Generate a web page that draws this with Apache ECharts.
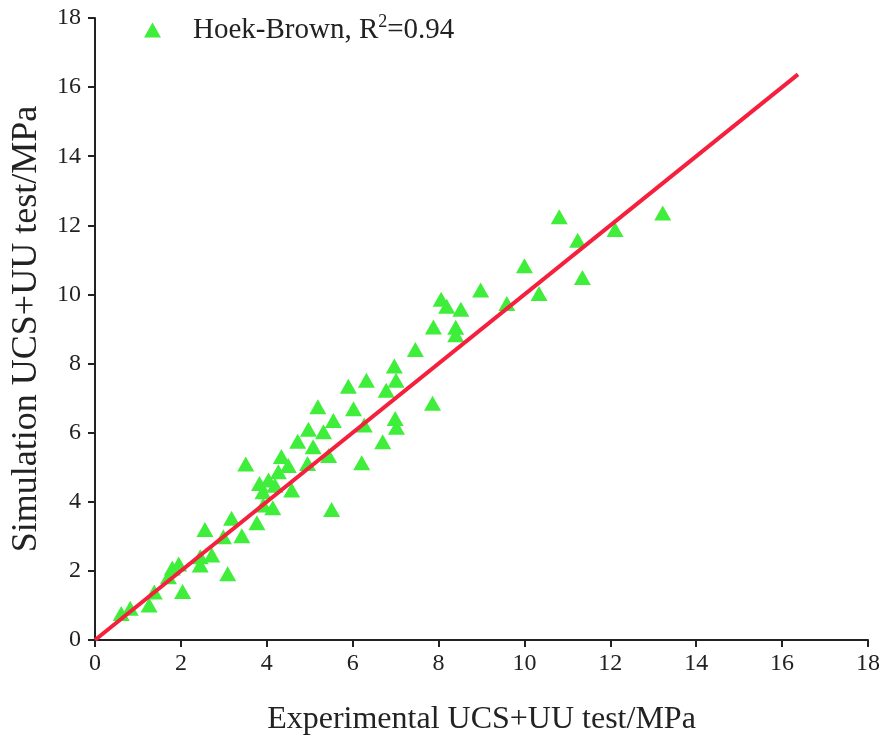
<!DOCTYPE html>
<html>
<head>
<meta charset="utf-8">
<script src="https://cdn.jsdelivr.net/npm/echarts@6/dist/echarts.min.js"></script>
<style>html,body{margin:0;padding:0;background:#fff}#c{width:885px;height:744px}</style>
</head>
<body>
<div id="c"></div>
<script>
const seriesName = 'Hoek-Brown, R2=0.94';
const xLabel = 'Experimental UCS+UU test/MPa';
const yLabel = 'Simulation UCS+UU test/MPa';
const expValues = [0.61,0.82,1.26,1.38,1.71,1.80,1.95,2.04,2.45,2.45,2.56,2.72,2.99,3.09,3.18,3.42,3.51,3.77,3.83,4.04,4.19,3.91,3.92,4.14,4.27,4.34,4.50,4.58,4.72,5.08,4.95,4.97,5.32,5.19,5.44,5.51,5.55,5.90,6.02,6.21,6.27,6.32,6.70,6.78,6.97,7.01,6.99,7.02,7.46,7.86,7.88,8.06,8.19,8.40,8.40,8.52,8.98,9.59,10.00,10.34,10.81,11.24,11.35,12.11,13.22];
const simValues = [0.77,0.92,1.01,1.39,1.83,2.08,2.20,1.40,2.41,2.17,3.20,2.46,2.99,1.92,3.52,3.02,5.09,3.39,4.53,4.63,4.48,4.29,3.91,3.83,4.87,5.31,5.05,4.34,5.75,5.59,5.11,6.10,6.03,6.75,5.34,3.78,6.35,7.34,6.69,5.13,6.22,7.52,5.74,7.23,7.93,7.52,6.41,6.16,8.41,6.85,9.06,9.86,9.66,9.05,8.83,9.57,10.13,9.74,10.83,10.03,12.25,11.57,10.49,11.88,12.36];
const fitLineX = [0, 16.37];
const fitLineY = [0, 16.37];
const axisMin = 0, axisMax = 18, axisStep = 2;

const pts = expValues.map((v, i) => [v, simValues[i]]);
const linePts = fitLineX.map((v, i) => [v, fitLineY[i]]);
const font = 'Liberation Serif, Times New Roman, serif';
const axisCommon = {
  type: 'value', min: axisMin, max: axisMax, interval: axisStep,
  splitLine: {show: false},
  axisLine: {show: true, onZero: false, lineStyle: {color: '#222', width: 2}},
  axisTick: {show: true, inside: false, length: 7, lineStyle: {color: '#222', width: 2}},
  axisLabel: {color: '#222', fontFamily: font, fontSize: 24},
  nameLocation: 'middle',
  nameTextStyle: {color: '#222', fontFamily: font, fontSize: 32}
};
const chart = echarts.init(document.getElementById('c'), null, {renderer: 'canvas'});
chart.setOption({
  backgroundColor: '#fff',
  animation: false,
  grid: {left: 95, right: 17, top: 18, bottom: 104, containLabel: false, outerBoundsMode: 'none'},
  legend: {
    data: [{name: seriesName, icon: 'triangle'}],
    left: 139, top: 8,
    itemWidth: 17, itemHeight: 15,
    formatter: function () { return '{n|Hoek-Brown, R}{s|2}{n|=0.94}'; },
    textStyle: {
      color: '#222', fontFamily: font, fontSize: 29, padding: [0, 0, 0, 27],
      rich: {
        n: {color: '#222', fontFamily: font, fontSize: 29, lineHeight: 34},
        s: {color: '#222', fontFamily: font, fontSize: 18, lineHeight: 34, verticalAlign: 'top', padding: [0, 0, 12, 0]}
      }
    }
  },
  xAxis: Object.assign({}, axisCommon, {name: xLabel, nameGap: 64,
    axisLabel: Object.assign({}, axisCommon.axisLabel, {margin: 12})}),
  yAxis: Object.assign({}, axisCommon, {name: yLabel, nameGap: 50,
    nameTextStyle: {color: '#222', fontFamily: font, fontSize: 36},
    axisLabel: Object.assign({}, axisCommon.axisLabel, {margin: 14})}),
  series: [
    {
      name: 'fit', type: 'line', data: linePts, showSymbol: false, symbol: 'none',
      lineStyle: {color: '#F5203D', width: 4}, z: 3, silent: true
    },
    {
      name: seriesName, type: 'scatter', data: pts, symbol: 'triangle',
      symbolSize: [17, 15], itemStyle: {color: '#3FEE3A', opacity: 1}, z: 2
    }
  ]
});
</script>
</body>
</html>
